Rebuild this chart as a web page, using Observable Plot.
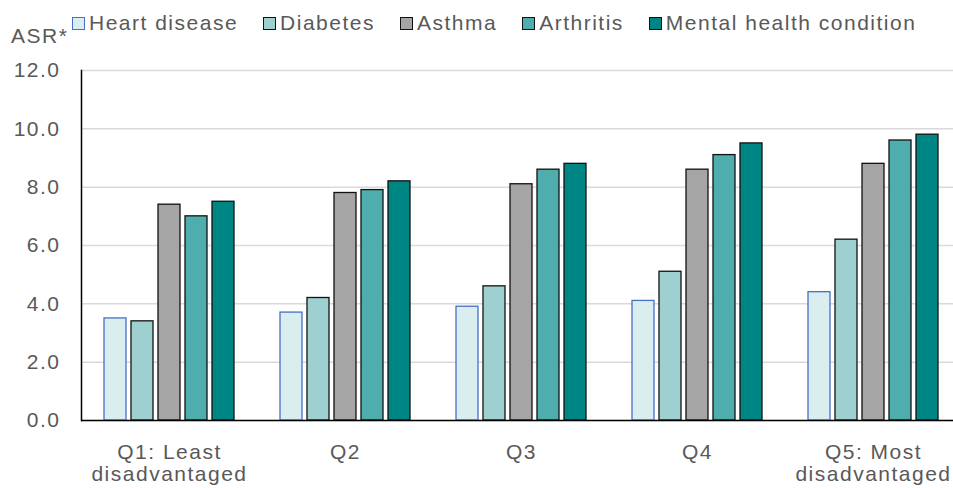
<!DOCTYPE html>
<html>
<head>
<meta charset="utf-8">
<script src="https://cdn.jsdelivr.net/npm/d3@7"></script>
<script src="https://cdn.jsdelivr.net/npm/@observablehq/plot@0.6"></script>
<style>
  html, body { margin: 0; padding: 0; background: #fff; overflow: hidden; }
  #wrap { width: 953px; font-family: "Liberation Sans", Arial, sans-serif; color: #595959; }
  #top { position: relative; height: 45px; font-size: 21px; line-height: 21px; letter-spacing: 1.5px; white-space: nowrap; }
  #asr { position: absolute; left: 11px; top: 25px; }
  #legend { position: absolute; left: 72px; top: 11.5px; }
  .item { display: inline-block; margin-right: 25px; }
  .sw { display: inline-block; width: 11px; height: 11px; border: 1.2px solid #000; margin-right: 4px; vertical-align: baseline; }
</style>
</head>
<body>
<div id="wrap">
  <div id="top"><div id="asr">ASR*</div><div id="legend"></div></div>
  <div id="chart"></div>
</div>
<script>
const quintiles = ["Q1: Least\ndisadvantaged", "Q2", "Q3", "Q4", "Q5: Most\ndisadvantaged"];
const conditions = ["Heart disease", "Diabetes", "Asthma", "Arthritis", "Mental health condition"];
const heartDisease = [3.5, 3.7, 3.9, 4.1, 4.4];
const diabetes     = [3.4, 4.2, 4.6, 5.1, 6.2];
const asthma       = [7.4, 7.8, 8.1, 8.6, 8.8];
const arthritis    = [7.0, 7.9, 8.6, 9.1, 9.6];
const mentalHealth = [7.5, 8.2, 8.8, 9.5, 9.8];
const yTicks = [0, 2, 4, 6, 8, 10, 12];
const fills = ["#DAEEF0", "#9DD0CE", "#A5A5A5", "#4EADAD", "#008585"];
const outlines = ["#4472C4", "#111111", "#111111", "#111111", "#111111"];

const series = [heartDisease, diabetes, asthma, arthritis, mentalHealth];
const data = quintiles.flatMap((q, i) => conditions.map((c, j) => ({q, c, v: series[j][i]})));

// HTML legend
const legend = document.getElementById("legend");
conditions.forEach((c, j) => {
  const item = document.createElement("span");
  item.className = "item";
  const sw = document.createElement("span");
  sw.className = "sw";
  sw.style.background = fills[j];
  sw.style.borderColor = outlines[j];
  item.appendChild(sw);
  item.appendChild(document.createTextNode(c));
  legend.appendChild(item);
});

const chart = Plot.plot({
  width: 953,
  height: 443,
  marginLeft: 79,
  marginRight: -9,
  marginTop: 25,
  marginBottom: 68,
  style: {fontFamily: "'Liberation Sans', Arial, sans-serif", fontSize: "21px", color: "#595959", letterSpacing: "1.5px", background: "#fff"},
  fx: {domain: quintiles, padding: 0, label: null},
  x: {domain: conditions, axis: null, paddingInner: 0.2, paddingOuter: 0.845},
  y: {domain: [0, 12], label: null},
  color: {domain: conditions, range: fills},
  marks: [
    Plot.gridY(yTicks, {stroke: "#d9d9d9", strokeOpacity: 1, strokeWidth: 1.5}),
    Plot.axisY(yTicks, {tickSize: 0, tickPadding: 21, label: null, tickFormat: d3.format(".1f"), fontSize: 21}),
    Plot.axisFx({anchor: "bottom", tickSize: 0, tickPadding: 23, label: null, fontSize: 21, lineHeight: 1.05}),
    Plot.barY(data, {filter: d => d.c === conditions[0], fx: "q", x: "c", y: "v", fill: "c", stroke: outlines[0], strokeWidth: 1.3}),
    Plot.barY(data, {filter: d => d.c !== conditions[0], fx: "q", x: "c", y: "v", fill: "c", stroke: outlines[1], strokeWidth: 1.3}),
    Plot.ruleY([0], {stroke: "#000", strokeWidth: 1.5}),
    Plot.frame({anchor: "left", facetAnchor: "left", stroke: "#000", strokeWidth: 1.5})
  ]
});
document.getElementById("chart").appendChild(chart);
</script>
</body>
</html>
